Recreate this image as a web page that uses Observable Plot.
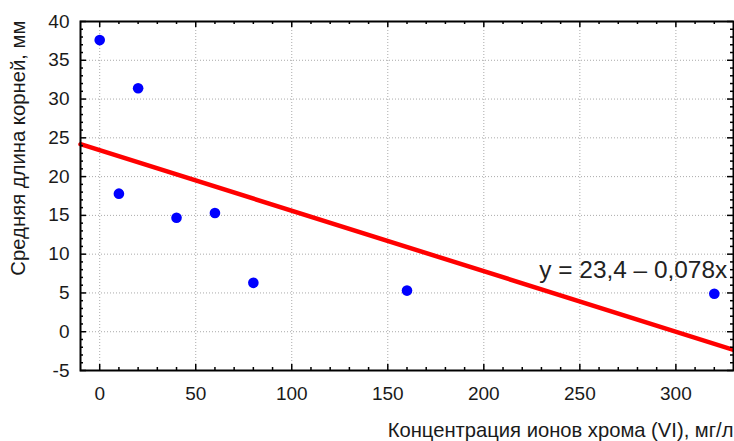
<!DOCTYPE html>
<html>
<head>
<meta charset="utf-8">
<script src="https://cdn.jsdelivr.net/npm/d3@7"></script>
<script src="https://cdn.jsdelivr.net/npm/@observablehq/plot@0.6"></script>
<style>
  body { margin: 0; background: #fff; }
  #chart svg { display: block; }
</style>
</head>
<body>
<div id="chart"></div>
<script>
// ---- data ----
const concentration = [0, 10, 20, 40, 60, 80, 160, 320];          // mg/L
const rootLength    = [37.6, 17.8, 31.4, 14.7, 15.3, 6.3, 5.3, 4.9]; // mm
const fitIntercept = 23.4;
const fitSlope = -0.078;
const fitLabel = "y = 23,4 – 0,078x";
const fitLabelPos = [326.7, 7.9];
const xTicks = [0, 50, 100, 150, 200, 250, 300];
const yTicks = [-5, 0, 5, 10, 15, 20, 25, 30, 35, 40];
const xDomain = [-10, 330];
const yDomain = [-5, 40];
const xTitle = "Концентрация ионов хрома (VI), мг/л";
const yTitle = "Средняя длина корней, мм";

// ---- derived tables ----
const points = concentration.map((x, i) => ({x, y: rootLength[i]}));
const fitLine = xDomain.map(x => ({x, y: fitIntercept + fitSlope * x}));
const xMinor = d3.range(xDomain[0] + 10, xDomain[1], 10).filter(v => v % 50 !== 0);
const yMinor = d3.range(yDomain[0] + 1, yDomain[1], 1).filter(v => v % 5 !== 0);

const W = 734, H = 441;
const mL = 80, mR = 1, mT = 21, mB = 71;
const pw = W - mL - mR, ph = H - mT - mB;
const font = "'Liberation Sans', Arial, sans-serif";
const ink = "#1a1a1a";

const tickMarks = (len, minor) => {
  const xs = minor ? xMinor : xTicks;
  const ys = minor ? yMinor : yTicks;
  return [
    Plot.tickX(xs, {x: d => d, insetTop: ph - len, stroke: "#000", strokeWidth: 1.5}),
    Plot.tickX(xs, {x: d => d, insetBottom: ph - len, stroke: "#000", strokeWidth: 1.5}),
    Plot.tickY(ys, {y: d => d, insetRight: pw - len, stroke: "#000", strokeWidth: 1.5}),
    Plot.tickY(ys, {y: d => d, insetLeft: pw - len, stroke: "#000", strokeWidth: 1.5})
  ];
};

const chart = Plot.plot({
  width: W, height: H,
  marginLeft: mL, marginRight: mR, marginTop: mT, marginBottom: mB,
  style: {fontFamily: font, fontSize: "19px", color: ink, background: "#fff"},
  x: {domain: xDomain},
  y: {domain: yDomain},
  marks: [
    Plot.gridX(xTicks, {stroke: "#aaaaaa", strokeOpacity: 1, strokeDasharray: "1,2"}),
    Plot.gridY(yTicks.filter(v => v !== yDomain[0] && v !== yDomain[1]), {stroke: "#aaaaaa", strokeOpacity: 1, strokeDasharray: "1,2"}),
    Plot.line(fitLine, {x: "x", y: "y", stroke: "#ff0000", strokeWidth: 4.5}),
    Plot.dot(points, {x: "x", y: "y", r: 5.3, fill: "#0000ff", stroke: "none"}),
    ...tickMarks(6, false),
    ...tickMarks(3, true),
    Plot.frame({stroke: "#000", strokeWidth: 2}),
    Plot.axisX(xTicks, {tickSize: 0, tickPadding: 16, tickFormat: d => String(d), label: null, fontSize: 19, fill: ink}),
    Plot.axisY(yTicks, {tickSize: 0, tickPadding: 11, tickFormat: d => String(d), label: null, fontSize: 19, fill: ink}),
    Plot.text([fitLabel], {x: () => fitLabelPos[0], y: () => fitLabelPos[1], text: d => d, textAnchor: "end", lineAnchor: "middle", fontSize: 24.4, fill: "#222"}),
    Plot.text([xTitle], {frameAnchor: "bottom-right", text: d => d, textAnchor: "end", lineAnchor: "middle", dy: 60, fontSize: 20.2, fill: ink}),
    Plot.text([yTitle], {frameAnchor: "top-left", text: d => d, rotate: -90, textAnchor: "end", lineAnchor: "middle", dx: -62, dy: -1, fontSize: 20.3, fill: ink})
  ]
});
document.getElementById("chart").appendChild(chart);
</script>
</body>
</html>
